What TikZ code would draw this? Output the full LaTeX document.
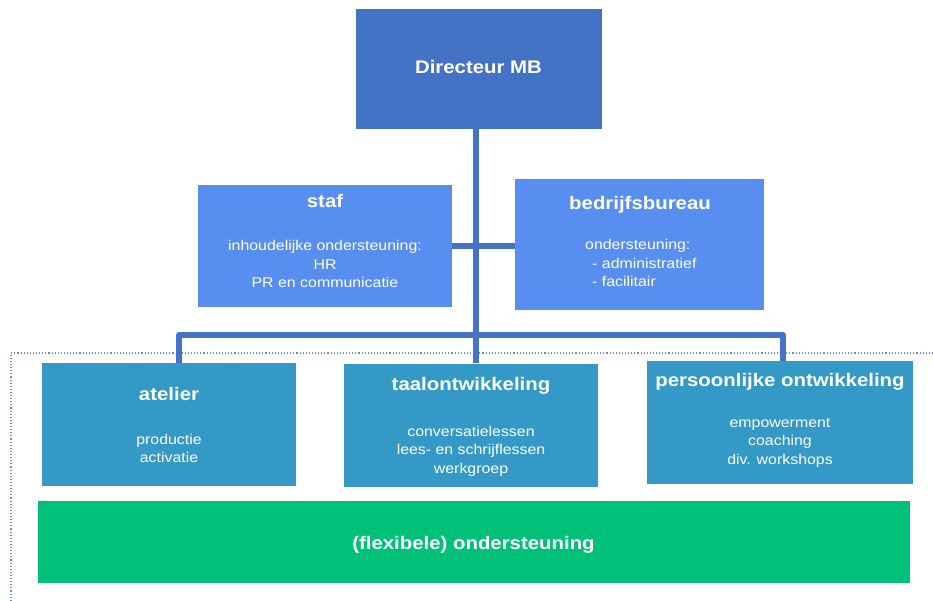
\documentclass[tikz,border=0pt]{standalone}
\usepackage{fontspec}
\setmainfont{Liberation Sans}[FakeStretch=1.12]

\definecolor{dirblue}{RGB}{68,114,196}
\definecolor{stafblue}{RGB}{88,142,240}
\definecolor{unitblue}{RGB}{52,153,198}
\definecolor{flexgreen}{RGB}{0,192,122}
\definecolor{framegray}{RGB}{110,140,185}

\tikzset{
  box/.style={fill=#1, inner sep=0pt, minimum width=254pt, minimum height=122pt},
  title/.style={text=white, inner sep=0pt, font=\fontsize{18.2}{20}\selectfont\bfseries},
  body/.style={text=white, inner sep=0pt, align=center, font=\fontsize{14.2}{18.6}\selectfont},
  conn/.style={draw=dirblue, line width=6pt, line join=round},
}

\begin{document}
\begin{tikzpicture}[x=1pt,y=-1pt]
    \useasboundingbox (0,0) rectangle (933,601);

    % dotted frame round the units
    \draw[framegray, dotted, line width=1.1pt] (933,353) -- (11,353) -- (11,601);

    % Directeur
    \node[box=dirblue, minimum width=246pt, minimum height=120pt] (dir) at (478.5,69) {};
    \node[title] (dirT) at (478.5,67) {Directeur MB};

    % staf
    \node[box=stafblue] (staf) at (325,246) {};
    \node[title] (stafT) at (325,201) {staf};
    \node[body] (stafB) at (325,264) {inhoudelijke ondersteuning:\\HR\\PR en communicatie};

    % bedrijfsbureau
    \node[box=stafblue, minimum width=249pt, minimum height=130pt] (bb) at (639.5,244.5) {};
    \node[title] (bbT) at (640,205) {bedrijfsbureau};
    \node[body, align=left, anchor=west] (bbB) at (585,263)
      {ondersteuning:\\\hspace*{7pt}- administratief\\\hspace*{7pt}- facilitair};

    % atelier
    \node[box=unitblue, minimum height=123pt] (atelier) at (169,424.5) {};
    \node[title] (atelierT) at (169,394) {atelier};
    \node[body] (atelierB) at (169,448.5) {productie\\activatie};

    % taalontwikkeling
    \node[box=unitblue, minimum height=123pt] (taal) at (471,425) {};
    \node[title] (taalT) at (471,386) {taalontwikkeling};
    \node[body] (taalB) at (471,451) {conversatielessen\\lees- en schrijflessen\\werkgroep};

    % persoonlijke ontwikkeling
    \node[box=unitblue, minimum width=266pt, minimum height=123pt] (pers) at (780,422.5) {};
    \node[title] (persT) at (780,382) {persoonlijke ontwikkeling};
    \node[body] (persB) at (780,442.5) {empowerment\\coaching\\div. workshops};

    % (flexibele) ondersteuning
    \node[box=flexgreen, minimum width=872pt, minimum height=82pt] (flex) at (473.5,542) {};
    \node[title] (flexT) at (473.5,545) {(flexibele) ondersteuning};

    % lines
    \coordinate (barL) at (179,335);
    \coordinate (barR) at (783,335);
    \draw[conn] ([xshift=-2.5pt]dir.south) -- ([xshift=-2.5pt]dir.south |- taal.north);
    \draw[conn] (staf.east) -- (staf.east -| bb.west);
    \draw[conn] (atelier.north -| barL) -- (barL) -- (barR) -- (pers.north -| barR);
\end{tikzpicture}
\end{document}
